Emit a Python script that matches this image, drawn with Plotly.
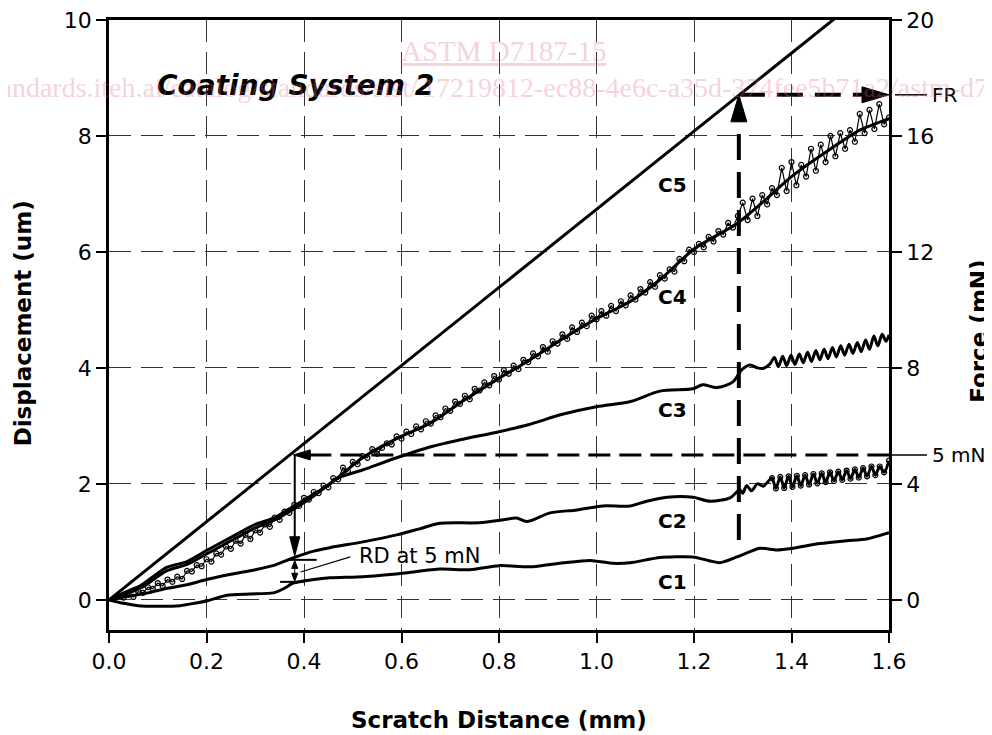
import plotly.graph_objects as go

# ---------------- data ----------------
force_distance = [0.0, 1.6]
force_mN = [0.0, 21.55]

c1_distance = [0.0, 0.03, 0.06, 0.10, 0.146, 0.175, 0.20, 0.242, 0.29, 0.337, 0.36, 0.378, 0.42, 0.453,
               0.521, 0.603, 0.679, 0.74, 0.80, 0.864, 0.932, 0.987, 1.034, 1.069, 1.13, 1.198, 1.253,
               1.288, 1.335, 1.37, 1.403, 1.458, 1.513, 1.554, 1.60]
c1_disp = [0.0, -0.06, -0.10, -0.11, -0.10, -0.06, -0.02, 0.08, 0.10, 0.12, 0.20, 0.29, 0.35, 0.38,
           0.40, 0.46, 0.53, 0.52, 0.59, 0.57, 0.64, 0.68, 0.63, 0.64, 0.73, 0.74, 0.64,
           0.74, 0.89, 0.86, 0.89, 0.97, 1.02, 1.05, 1.16]

c2_distance = [0.0, 0.04, 0.08, 0.12, 0.16, 0.20, 0.25, 0.30, 0.34, 0.38, 0.42, 0.453, 0.521, 0.59,
               0.635, 0.679, 0.76, 0.809, 0.836, 0.857, 0.905, 0.96, 1.013, 1.069, 1.103, 1.145,
               1.198, 1.233, 1.274, 1.294, 1.300, 1.308, 1.318, 1.330, 1.342, 1.352]
c2_disp = [0.0, 0.06, 0.12, 0.20, 0.26, 0.35, 0.44, 0.52, 0.60, 0.73, 0.84, 0.90, 1.00, 1.12,
           1.22, 1.32, 1.33, 1.38, 1.41, 1.35, 1.50, 1.55, 1.62, 1.62, 1.70, 1.77,
           1.77, 1.70, 1.76, 1.90, 1.84, 1.97, 1.88, 2.00, 1.96, 2.04]
c2_wave_distance = [1.360, 1.368, 1.377, 1.385, 1.394, 1.402, 1.411, 1.419, 1.428, 1.436, 1.445, 1.453,
                    1.462, 1.470, 1.479, 1.487, 1.496, 1.504, 1.513, 1.521, 1.530, 1.538, 1.547, 1.555,
                    1.564, 1.572, 1.581, 1.590, 1.600]
c2_wave_disp = [2.10, 1.92, 2.12, 1.93, 2.13, 1.95, 2.14, 1.97, 2.15, 1.99, 2.17, 2.01,
                2.18, 2.03, 2.20, 2.05, 2.21, 2.07, 2.23, 2.09, 2.25, 2.11, 2.27, 2.13,
                2.30, 2.15, 2.30, 2.20, 2.40]

c3_distance = [0.0, 0.064, 0.118, 0.16, 0.20, 0.255, 0.30, 0.34, 0.38, 0.42, 0.47, 0.52, 0.59, 0.66,
               0.72, 0.80, 0.86, 0.93, 1.00, 1.07, 1.13, 1.198, 1.218, 1.247, 1.28, 1.298, 1.315,
               1.33, 1.342, 1.355]
c3_disp = [0.0, 0.20, 0.50, 0.61, 0.79, 1.04, 1.24, 1.38, 1.57, 1.79, 2.10, 2.24, 2.45, 2.64,
           2.76, 2.90, 3.02, 3.20, 3.33, 3.42, 3.60, 3.64, 3.71, 3.66, 3.76, 3.97, 4.05,
           4.00, 3.99, 4.06]
c3_wave_distance = [1.365, 1.373, 1.382, 1.390, 1.399, 1.407, 1.416, 1.424, 1.433, 1.441, 1.450, 1.458,
                    1.467, 1.475, 1.484, 1.492, 1.501, 1.509, 1.518, 1.526, 1.535, 1.543, 1.552, 1.560,
                    1.569, 1.577, 1.586, 1.594, 1.600]
c3_wave_disp = [4.18, 4.02, 4.20, 4.04, 4.22, 4.06, 4.24, 4.09, 4.27, 4.11, 4.30, 4.14,
                4.32, 4.16, 4.35, 4.19, 4.38, 4.22, 4.41, 4.25, 4.44, 4.28, 4.48, 4.32,
                4.55, 4.38, 4.58, 4.46, 4.57]

c4_distance = [0.0, 0.03, 0.064, 0.118, 0.16, 0.20, 0.255, 0.30, 0.34, 0.38, 0.45, 0.52, 0.59, 0.66,
               0.73, 0.80, 0.86, 0.93, 1.00, 1.07, 1.13, 1.20, 1.29, 1.34, 1.40, 1.47, 1.54, 1.60]
c4_disp = [0.0, 0.12, 0.24, 0.56, 0.66, 0.85, 1.10, 1.30, 1.42, 1.62, 1.98, 2.45, 2.78, 3.05,
           3.45, 3.82, 4.12, 4.50, 4.85, 5.15, 5.52, 6.05, 6.50, 6.85, 7.30, 7.72, 8.10, 8.30]

c5_distance = [0.03, 0.04, 0.05, 0.06, 0.07, 0.08, 0.09, 0.10, 0.11, 0.12, 0.13, 0.14, 0.15, 0.16,
               0.17, 0.18, 0.19, 0.20, 0.21, 0.22, 0.23, 0.24, 0.25, 0.26, 0.27, 0.28, 0.29, 0.30,
               0.31, 0.32, 0.33, 0.34, 0.35, 0.36, 0.37, 0.38, 0.39, 0.40, 0.41, 0.42, 0.43, 0.44,
               0.45, 0.46, 0.47, 0.48, 0.49, 0.50, 0.51, 0.52, 0.53, 0.54, 0.55, 0.56, 0.57, 0.58,
               0.59, 0.60, 0.61, 0.62, 0.63, 0.64, 0.65, 0.66, 0.67, 0.68, 0.69, 0.70, 0.71, 0.72,
               0.73, 0.74, 0.75, 0.76, 0.77, 0.78, 0.79, 0.80, 0.81, 0.82, 0.83, 0.84, 0.85, 0.86,
               0.87, 0.88, 0.89, 0.90, 0.91, 0.92, 0.93, 0.94, 0.95, 0.96, 0.97, 0.98, 0.99, 1.00,
               1.01, 1.02, 1.03, 1.04, 1.05, 1.06, 1.07, 1.08, 1.09, 1.10, 1.11, 1.12, 1.13, 1.14,
               1.15, 1.16, 1.17, 1.18, 1.19, 1.20, 1.21, 1.22, 1.23, 1.24, 1.25, 1.26, 1.27, 1.28,
               1.29, 1.30, 1.31, 1.32, 1.33, 1.34, 1.35, 1.36, 1.37, 1.38, 1.39, 1.40, 1.41, 1.42,
               1.43, 1.44, 1.45, 1.46, 1.47, 1.48, 1.49, 1.50, 1.51, 1.52, 1.53, 1.54, 1.55, 1.56,
               1.57, 1.58, 1.59, 1.60]
c5_disp = [0.04, 0.09, 0.05, 0.14, 0.12, 0.22, 0.19, 0.29, 0.24, 0.35, 0.31, 0.40, 0.36, 0.50,
           0.49, 0.60, 0.58, 0.70, 0.66, 0.80, 0.78, 0.92, 0.88, 1.02, 0.97, 1.12, 1.05, 1.20,
           1.16, 1.30, 1.26, 1.42, 1.38, 1.52, 1.50, 1.64, 1.62, 1.76, 1.73, 1.86, 1.84, 1.97,
           1.94, 2.10, 2.08, 2.28, 2.22, 2.38, 2.34, 2.48, 2.45, 2.60, 2.52, 2.62, 2.70, 2.68,
           2.82, 2.78, 2.90, 2.86, 2.99, 2.94, 3.08, 3.04, 3.18, 3.15, 3.30, 3.26, 3.42, 3.38,
           3.52, 3.46, 3.64, 3.61, 3.75, 3.70, 3.86, 3.80, 3.96, 3.90, 4.04, 3.98, 4.14, 4.10,
           4.25, 4.20, 4.36, 4.28, 4.46, 4.42, 4.58, 4.50, 4.70, 4.62, 4.78, 4.72, 4.90, 4.84,
           4.98, 4.90, 5.07, 4.98, 5.15, 5.08, 5.25, 5.18, 5.36, 5.30, 5.48, 5.40, 5.60, 5.54,
           5.70, 5.66, 5.88, 5.84, 6.04, 6.00, 6.14, 6.08, 6.26, 6.18, 6.36, 6.30, 6.50, 6.42,
           6.62, 6.85, 6.55, 6.92, 6.62, 6.98, 6.82, 7.10, 6.98, 7.45, 7.05, 7.55, 7.15, 7.50,
           7.30, 7.78, 7.40, 7.85, 7.55, 8.00, 7.65, 8.05, 7.78, 8.10, 7.90, 8.38, 8.05, 8.45,
           8.12, 8.55, 8.20, 8.32]

curve_labels = ["C1", "C2", "C3", "C4", "C5"]
curve_label_disp = [0.31, 1.36, 3.28, 5.22, 7.15]
curve_label_distance = 1.19

x_ticks = [0.0, 0.2, 0.4, 0.6, 0.8, 1.0, 1.2, 1.4, 1.6]
disp_ticks = [0, 2, 4, 6, 8, 10]
force_ticks = [0, 4, 8, 12, 16, 20]

# annotation positions
FR_DIST = 1.292
FR_FORCE = 17.42
FR_BOTTOM_DISP = 1.03
RD_FORCE = 5.0
RD_DIST = 0.381
RD_TIP_DISP = 0.76
RD_TOP_TICK = 0.69
RD_BOTTOM_TICK = 0.31

FONT = "DejaVu Sans"
BLACK = "black"

fig = go.Figure()

fig.add_trace(go.Scatter(x=force_distance, y=force_mN, yaxis="y2", mode="lines",
                         line=dict(color=BLACK, width=3), hoverinfo="skip"))
fig.add_trace(go.Scatter(x=c1_distance, y=c1_disp, mode="lines",
                         line=dict(color=BLACK, width=3, shape="spline", smoothing=0.6)))
fig.add_trace(go.Scatter(x=c2_distance + c2_wave_distance, y=c2_disp + c2_wave_disp, mode="lines",
                         line=dict(color=BLACK, width=3, shape="spline", smoothing=0.8)))
fig.add_trace(go.Scatter(x=c2_wave_distance, y=c2_wave_disp, mode="markers",
                         marker=dict(symbol="circle-open", size=5, color=BLACK, line=dict(width=1.2))))
fig.add_trace(go.Scatter(x=c3_distance + c3_wave_distance, y=c3_disp + c3_wave_disp, mode="lines",
                         line=dict(color=BLACK, width=3, shape="spline", smoothing=0.8)))
fig.add_trace(go.Scatter(x=c4_distance, y=c4_disp, mode="lines",
                         line=dict(color=BLACK, width=3, shape="spline", smoothing=0.6)))
fig.add_trace(go.Scatter(x=c5_distance, y=c5_disp, mode="lines+markers",
                         line=dict(color=BLACK, width=1.2),
                         marker=dict(symbol="circle-open", size=5, color=BLACK, line=dict(width=1.2))))


def head(xv, yv, path, yref="y"):
    return dict(type="path", xref="x", yref=yref, xsizemode="pixel", ysizemode="pixel",
                xanchor=xv, yanchor=yv, path=path, fillcolor=BLACK,
                line=dict(color=BLACK, width=1), layer="above")


shapes = [
    # FR vertical dashed line and arrow head
    dict(type="line", xref="x", yref="y", x0=FR_DIST, x1=FR_DIST, y0=FR_BOTTOM_DISP, y1=FR_FORCE / 2 - 0.45,
         line=dict(color=BLACK, width=4, dash="26px,12px")),
    head(FR_DIST, FR_FORCE / 2, "M0,0 L-8,-27 L8,-27 Z"),
    # FR horizontal dashed arrow to the right axis
    dict(type="line", xref="x", yref="y2", x0=FR_DIST, x1=1.6 - 0.055, y0=FR_FORCE, y1=FR_FORCE,
         line=dict(color=BLACK, width=4, dash="26px,12px")),
    head(1.6, FR_FORCE, "M0,0 L-27,8 L-27,-8 Z", yref="y2"),
    dict(type="line", xref="paper", yref="y2", x0=1.0077, x1=1.0487, y0=FR_FORCE, y1=FR_FORCE,
         line=dict(color=BLACK, width=1.5)),
    # 5 mN dashed line
    dict(type="line", xref="x", yref="y2", x0=RD_DIST + 0.03, x1=1.6, y0=RD_FORCE, y1=RD_FORCE,
         line=dict(color=BLACK, width=3, dash="22px,9px")),
    head(RD_DIST - 0.003, RD_FORCE, "M0,0 L17,5 L17,-5 Z", yref="y2"),
    dict(type="line", xref="paper", yref="y2", x0=1.0, x1=1.0487, y0=RD_FORCE, y1=RD_FORCE,
         line=dict(color=BLACK, width=1.5)),
    # vertical solid arrow down to C2
    dict(type="line", xref="x", yref="y", x0=RD_DIST, x1=RD_DIST, y0=RD_FORCE / 2, y1=RD_TIP_DISP + 0.3,
         line=dict(color=BLACK, width=2)),
    head(RD_DIST, RD_TIP_DISP, "M0,0 L-5,19 L5,19 Z"),
    # RD double arrow between C2 and C1
    dict(type="line", xref="x", yref="y", x0=RD_DIST - 0.012, x1=RD_DIST + 0.045, y0=RD_TOP_TICK, y1=RD_TOP_TICK,
         line=dict(color=BLACK, width=2)),
    dict(type="line", xref="x", yref="y", x0=RD_DIST - 0.03, x1=RD_DIST + 0.02, y0=RD_BOTTOM_TICK,
         y1=RD_BOTTOM_TICK, line=dict(color=BLACK, width=2)),
    dict(type="line", xref="x", yref="y", x0=RD_DIST, x1=RD_DIST, y0=RD_BOTTOM_TICK + 0.05,
         y1=RD_TOP_TICK - 0.05, line=dict(color=BLACK, width=1)),
    head(RD_DIST, RD_TOP_TICK - 0.01, "M0,0 L-3,-8 L3,-8 Z"),
    head(RD_DIST, RD_BOTTOM_TICK + 0.01, "M0,0 L-3,8 L3,8 Z"),
    # leader line to the "RD at 5 mN" text
    dict(type="line", xref="x", yref="y", x0=RD_DIST + 0.012, x1=0.495, y0=0.48, y1=0.74,
         line=dict(color=BLACK, width=1.2)),
]

annotations = []
for lab, yv in zip(curve_labels, curve_label_disp):
    annotations.append(dict(x=curve_label_distance, y=yv, xref="x", yref="y", text=lab, showarrow=False,
                            xanchor="right", yanchor="middle",
                            font=dict(family=FONT, size=20, color=BLACK, weight="bold")))

annotations += [
    dict(x=0.509, y=0.76, xref="x", yref="y", text="RD at 5 mN", showarrow=False, xanchor="left",
         yanchor="middle", font=dict(family=FONT, size=21, color=BLACK)),
    dict(x=1.0526, y=RD_FORCE, xref="paper", yref="y2", text="5 mN", showarrow=False, xanchor="left",
         yanchor="middle", font=dict(family=FONT, size=20, color=BLACK)),
    dict(x=1.0526, y=FR_FORCE, xref="paper", yref="y2", text="FR", showarrow=False, xanchor="left",
         yanchor="middle", font=dict(family=FONT, size=20, color=BLACK)),
    dict(x=0.059, y=0.893, xref="paper", yref="paper", text="<b><i>Coating System 2</i></b>",
         showarrow=False, xanchor="left", yanchor="middle", font=dict(family=FONT, size=28, color=BLACK)),
    dict(x=-0.110, y=0.503, xref="paper", yref="paper", text="<b>Displacement (um)</b>", textangle=-90,
         showarrow=False, xanchor="center", yanchor="middle", font=dict(family=FONT, size=23, color=BLACK)),
    dict(x=0.5, y=-0.1475, xref="paper", yref="paper", text="<b>Scratch Distance (mm)</b>",
         showarrow=False, xanchor="center", yanchor="middle", font=dict(family=FONT, size=23, color=BLACK)),
    dict(x=1.115, y=0.49, xref="paper", yref="paper", text="<b>Force (mN)</b>", textangle=-90,
         showarrow=False, xanchor="center", yanchor="middle", font=dict(family=FONT, size=23, color=BLACK)),
    # faint watermark of the source document
    dict(x=0.506, y=0.95, xref="paper", yref="paper", text="<u>ASTM D7187-15</u>", showarrow=False,
         xanchor="center", yanchor="middle", opacity=0.3,
         font=dict(family="Liberation Serif", size=29, color="#e0708a")),
    dict(x=(420 - 109) / 780, y=0.889, xref="paper", yref="paper",
         text="https://standards.iteh.ai/catalog/standards/sist/", showarrow=False,
         xanchor="right", yanchor="middle", opacity=0.3,
         font=dict(family="Liberation Serif", size=28, color="#e0708a")),
    dict(x=(420 - 109) / 780, y=0.889, xref="paper", yref="paper",
         text="17219812-ec88-4e6c-a35d-374fee5b71a2/astm-d7187-15", showarrow=False,
         xanchor="left", yanchor="middle", opacity=0.3,
         font=dict(family="Liberation Serif", size=28, color="#e0708a")),
]

axis_common = dict(showline=True, linecolor=BLACK, linewidth=2.5, ticks="outside", ticklen=10, tickwidth=2,
                   tickcolor=BLACK, tickfont=dict(family=FONT, size=22, color=BLACK), zeroline=False,
                   automargin=False, ticklabeloverflow="allow")

fig.update_layout(
    width=992, height=735,
    margin=dict(l=101, r=111, t=12, b=113),
    paper_bgcolor="white", plot_bgcolor="white",
    showlegend=False,
    font=dict(family=FONT, color=BLACK),
    xaxis=dict(range=[0, 1.6], tickvals=x_ticks, ticktext=[f"{v:.1f}" for v in x_ticks], mirror=True,
               showgrid=True, gridcolor="#333333", gridwidth=1.2, griddash="22px,10px", **axis_common),
    yaxis=dict(range=[-0.52, 10], tickvals=disp_ticks, mirror=True,
               showgrid=True, gridcolor="#333333", gridwidth=1.2, griddash="22px,10px", **axis_common),
    yaxis2=dict(range=[-1.04, 20], tickvals=force_ticks, overlaying="y", side="right", showgrid=False,
                **axis_common),
    shapes=shapes,
    annotations=annotations,
)

fig.write_html("out.html")
